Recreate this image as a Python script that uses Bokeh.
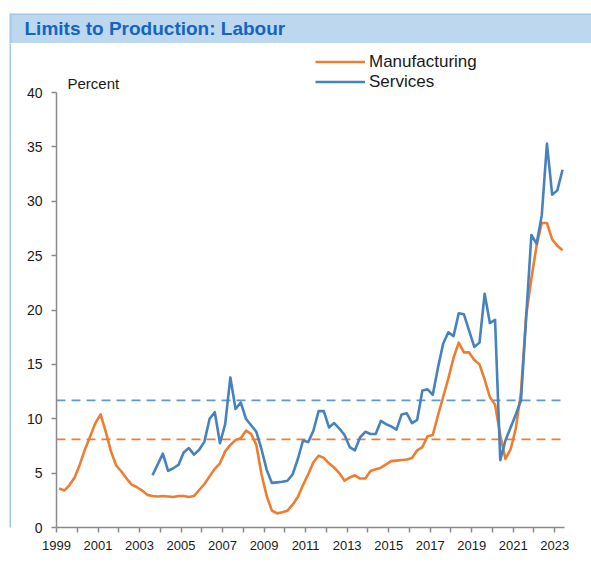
from bokeh.plotting import figure
from bokeh.models import Range1d, FixedTicker, Label, BoxAnnotation, Legend, LegendItem
from bokeh.layouts import column, row
from bokeh.embed import file_html
from bokeh.resources import INLINE

# ---------------- data (quarterly, 1999 Q1 .. 2023 Q2) ----------------
FIRST_YEAR = 1999
MANUFACTURING = [
    3.6, 3.4, 3.9, 4.6, 5.8, 7.2, 8.4, 9.6, 10.4, 8.8, 7.0, 5.7, 5.15, 4.5, 3.95, 3.7, 3.4, 3.0,
    2.9, 2.85, 2.9, 2.85, 2.8, 2.9, 2.9, 2.8, 2.9,
    3.45, 4.0, 4.7, 5.4, 5.9, 7.0, 7.6, 8.05, 8.2, 8.9, 8.6, 7.6, 4.9, 2.9, 1.55, 1.3, 1.4,
    1.55, 2.1, 2.8, 3.9, 4.9, 6.0, 6.6, 6.4, 5.9, 5.5, 5.0, 4.3, 4.6, 4.8, 4.5, 4.5, 5.2,
    5.35, 5.5, 5.8, 6.1, 6.15, 6.2, 6.25, 6.4, 7.1, 7.4, 8.4, 8.5, 10.3, 12.0, 13.7, 15.6,
    17.0, 16.1, 16.1, 15.4, 15.0, 13.6, 12.0, 11.3, 8.5, 6.3, 7.2, 9.1, 12.5, 19.5, 22.9,
    25.9, 28.0, 28.0, 26.5, 25.9, 25.5,
]
SERVICES_FIRST_QUARTER = 18  # 2003 Q3
SERVICES = [
    4.8, 5.8, 6.8, 5.2, 5.45, 5.75, 6.9, 7.3, 6.7, 7.15, 7.9, 10.0, 10.6, 7.75, 9.5, 13.8,
    10.9, 11.5, 10.0, 9.4, 8.8, 7.2, 5.3, 4.1, 4.15, 4.2, 4.3, 4.9, 6.3, 8.0, 7.85, 8.9,
    10.7, 10.7, 9.2, 9.6, 9.1, 8.5, 7.4, 7.1, 8.3, 8.8, 8.6, 8.6, 9.8, 9.5, 9.3, 9.0, 10.4,
    10.5, 9.6, 9.9, 12.6, 12.7, 12.2, 14.7, 16.9, 17.95, 17.6, 19.7, 19.6, 18.1, 16.6, 17.0,
    21.5, 18.8, 19.1, 6.2, 8.0, 9.2, 10.4, 11.7, 19.4, 26.9, 26.1, 28.7, 35.3, 30.6, 31.0, 32.9,
]
MANUFACTURING_AVG = 8.1
SERVICES_AVG = 11.7
YEAR_LABEL_TICKS = list(range(1999, 2024, 2))
YEAR_MINOR_TICKS = list(range(2000, 2023, 2))
Y_TICKS = [0, 5, 10, 15, 20, 25, 30, 35, 40]
TITLE = "Limits to Production: Labour"
UNIT_LABEL = "Percent"

# quarter mid-points as decimal years
x_m = [FIRST_YEAR + (i + 0.5) / 4 for i in range(len(MANUFACTURING))]
x_s = [FIRST_YEAR + (SERVICES_FIRST_QUARTER + i + 0.5) / 4 for i in range(len(SERVICES))]

FONT = "Liberation Sans"
AXIS_COLOR = "#8a8a8a"
TEXT_COLOR = "#1a1a1a"
PANEL_BORDER = "#A4C8E8"

TOTAL_W = 591
HEADER_H = 43
STRIP_W = 11
MAIN_H = 526

# ---------------- header (title bar) ----------------
header = figure(width=TOTAL_W, height=HEADER_H, output_backend="svg", toolbar_location=None,
                x_range=Range1d(0, 1), y_range=Range1d(0, 1),
                x_axis_type=None, y_axis_type=None,
                min_border_left=9, min_border_right=0, min_border_top=13, min_border_bottom=0)
header.background_fill_color = "#BDD7EE"
header.border_fill_color = "white"
header.outline_line_color = None
header.grid.visible = False
header.add_layout(BoxAnnotation(top=1, bottom=1 - 1.2 / 30, fill_color="#9DC3E6",
                                fill_alpha=1, line_alpha=0))
header.add_layout(BoxAnnotation(left=0, right=2 / (TOTAL_W - 9), fill_color=PANEL_BORDER,
                                fill_alpha=1, line_alpha=0))
header.add_layout(Label(x=15, x_units="screen", y=15, y_units="screen", text=TITLE,
                        text_font=FONT, text_font_size="19px", text_font_style="bold",
                        text_color="#1565C0", text_baseline="alphabetic"))

# ---------------- left panel border strip ----------------
strip = figure(width=STRIP_W, height=MAIN_H, output_backend="svg", toolbar_location=None,
               x_range=Range1d(0, 1), y_range=Range1d(0, 1),
               x_axis_type=None, y_axis_type=None,
               min_border_left=9, min_border_right=0, min_border_top=0, min_border_bottom=0)
strip.background_fill_color = PANEL_BORDER
strip.border_fill_color = "white"
strip.outline_line_color = None
strip.grid.visible = False

# ---------------- main chart ----------------
PX_PER_YEAR = 20.76
PX_PER_UNIT = 10.875
W = TOTAL_W - STRIP_W
LEFT, BOTTOM = 56 - STRIP_W, 42
frame_w = W - LEFT
frame_h = MAIN_H - BOTTOM

p = figure(width=W, height=MAIN_H, output_backend="svg", toolbar_location=None,
           x_range=Range1d(FIRST_YEAR, FIRST_YEAR + frame_w / PX_PER_YEAR),
           y_range=Range1d(0, frame_h / PX_PER_UNIT),
           min_border_left=LEFT, min_border_right=0, min_border_top=0,
           min_border_bottom=BOTTOM)
p.background_fill_color = "white"
p.border_fill_color = "white"
p.outline_line_color = None
p.grid.visible = False

# unit label
p.add_layout(Label(x=FIRST_YEAR + 11 / PX_PER_YEAR, y=(frame_h - 39.5) / PX_PER_UNIT,
                   text=UNIT_LABEL, text_font=FONT, text_font_size="15px",
                   text_color=TEXT_COLOR, text_baseline="alphabetic"))

# average (dashed) lines
p.line([FIRST_YEAR, x_m[-1]], [SERVICES_AVG, SERVICES_AVG], line_color="#5B9BD5",
       line_width=1.75, line_dash="9 6")
p.line([FIRST_YEAR, x_m[-1]], [MANUFACTURING_AVG, MANUFACTURING_AVG], line_color="#ED7D31",
       line_width=1.75, line_dash="9 6")

# series
r_m = p.line(x_m, MANUFACTURING, line_color="#ED7D31", line_width=2.6, line_join="round")
r_s = p.line(x_s, SERVICES, line_color="#4682BE", line_width=2.6, line_join="round")

legend = Legend(items=[LegendItem(label="Manufacturing", renderers=[r_m]),
                       LegendItem(label="Services", renderers=[r_s])],
                location=(259, 435.5), orientation="vertical",
                glyph_width=50, glyph_height=19, label_height=19, label_standoff=4,
                spacing=0, padding=0, margin=0, border_line_color=None,
                background_fill_alpha=0, label_text_font=FONT,
                label_text_font_size="17px", label_text_color=TEXT_COLOR)
p.add_layout(legend)

# axes
xa = p.xaxis[0]
xa.bounds = (FIRST_YEAR, 2023.48)
xa.ticker = FixedTicker(ticks=YEAR_LABEL_TICKS, minor_ticks=YEAR_MINOR_TICKS)
xa.axis_line_color = AXIS_COLOR
xa.axis_line_width = 1.5
xa.major_tick_line_color = AXIS_COLOR
xa.minor_tick_line_color = AXIS_COLOR
xa.major_tick_line_width = 1.5
xa.minor_tick_line_width = 1.5
xa.major_tick_out = 5
xa.major_tick_in = 0
xa.minor_tick_out = 5
xa.minor_tick_in = 0
xa.major_label_text_font = FONT
xa.major_label_text_font_size = "13px"
xa.major_label_text_color = TEXT_COLOR
xa.major_label_standoff = 8

ya = p.yaxis[0]
ya.bounds = (0, 40)
ya.ticker = FixedTicker(ticks=Y_TICKS, minor_ticks=[])
ya.axis_line_color = AXIS_COLOR
ya.axis_line_width = 1.5
ya.major_tick_line_color = AXIS_COLOR
ya.major_tick_line_width = 1.5
ya.major_tick_out = 5
ya.major_tick_in = 0
ya.minor_tick_line_color = None
ya.major_label_text_font = FONT
ya.major_label_text_font_size = "14px"
ya.major_label_text_color = TEXT_COLOR
ya.major_label_standoff = 9

layout = column(header, row(strip, p, spacing=0), spacing=0)
open("out.html", "w").write(file_html(layout, INLINE))
